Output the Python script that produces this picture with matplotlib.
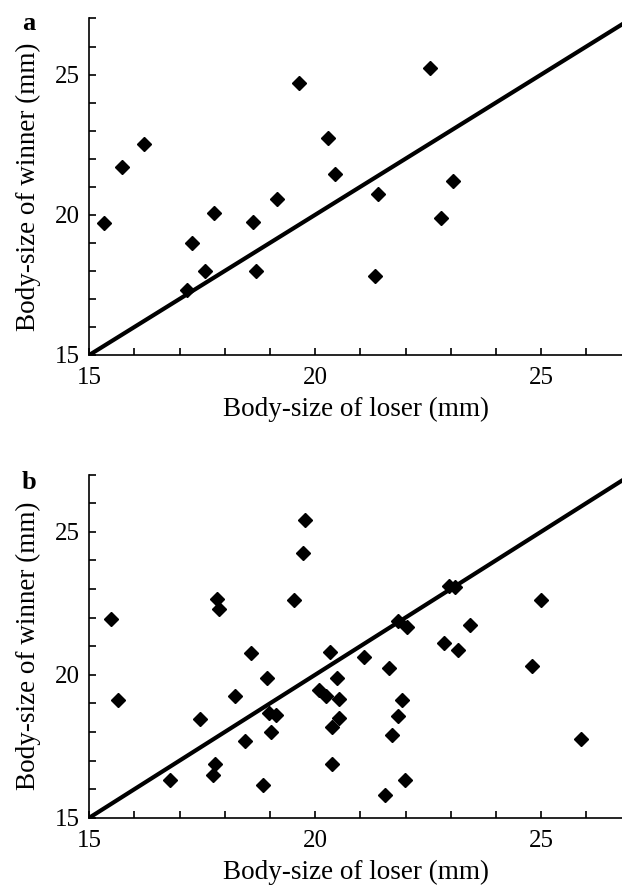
import matplotlib
matplotlib.use("Agg")
import matplotlib.pyplot as plt
import numpy as np
from matplotlib.ticker import MultipleLocator

plt.rcParams["font.family"] = ["Liberation Serif", "DejaVu Serif"]

# panel a: body size of loser vs winner (mm)
loser_a = [15.33, 15.73, 16.22, 17.17, 17.27, 17.56, 17.77, 18.63, 18.68,
           19.16, 19.63, 20.28, 20.44, 21.38, 21.33, 22.54, 22.78, 23.04]
winner_a = [19.70, 21.70, 22.54, 17.31, 18.98, 17.99, 20.08, 19.74, 17.99,
            20.57, 24.70, 22.75, 21.44, 20.74, 17.83, 25.25, 19.89, 21.20]

# panel b
loser_b = [15.48, 15.63, 16.78, 17.44, 17.74, 17.78, 17.83, 17.88, 18.23,
           18.44, 18.58, 18.84, 18.94, 18.98, 19.13, 19.02, 19.53, 19.74,
           19.78, 20.09, 20.24, 20.33, 20.38, 20.38, 20.49, 20.52, 20.53,
           21.09, 21.54, 21.63, 21.69, 21.83, 21.84, 21.93, 21.98, 22.04,
           22.84, 22.97, 23.09, 23.17, 23.43, 24.79, 25.00, 25.88]
winner_b = [21.96, 19.11, 16.31, 18.46, 16.48, 16.89, 22.65, 22.30, 19.26,
            17.70, 20.76, 16.14, 19.89, 18.66, 18.60, 17.99, 22.61, 24.26,
            25.41, 19.45, 19.26, 20.81, 18.19, 16.89, 19.89, 19.16, 18.50,
            20.61, 15.79, 20.25, 17.90, 18.55, 21.87, 19.11, 16.31, 21.66,
            21.11, 23.12, 23.06, 20.85, 21.75, 20.32, 22.61, 17.76]

diag = [15, 27]

fig = plt.figure(figsize=(6.22, 8.85), dpi=100)
ax_a = fig.add_axes([0.1436, 0.5989, 0.8564, 0.3802])
ax_b = fig.add_axes([0.1436, 0.0760, 0.8564, 0.3878])

for ax, xs, ys, tag, ty in [(ax_a, loser_a, winner_a, "a", 0.974),
                            (ax_b, loser_b, winner_b, "b", 0.455)]:
    ax.plot(diag, diag, color="black", lw=3, solid_capstyle="butt")
    ax.plot(xs, ys, "D", color="black", markersize=7.5, clip_on=False)
    ax.set_xlim(15, 26.79)
    ax.set_ylim(15, 27)
    ax.xaxis.set_major_locator(MultipleLocator(5))
    ax.yaxis.set_major_locator(MultipleLocator(5))
    ax.xaxis.set_minor_locator(MultipleLocator(1))
    ax.yaxis.set_minor_locator(MultipleLocator(1))
    for s in ["top", "right"]:
        ax.spines[s].set_visible(False)
    for s in ["left", "bottom"]:
        ax.spines[s].set_linewidth(1.2)
    ax.tick_params(which="both", direction="in", length=5, width=1.2,
                   labelsize=18, pad=7)
    ax.tick_params(axis="x", pad=8.5)
    ax.set_xlabel("Body-size of loser (mm)", fontsize=19.5, labelpad=6)
    ax.set_ylabel("Body-size of winner (mm)", fontsize=19.5, labelpad=10)
    fig.text(0.047, ty, tag, fontsize=19, fontweight="bold",
             ha="center", va="center")

fig.savefig("out.png", dpi=100)
